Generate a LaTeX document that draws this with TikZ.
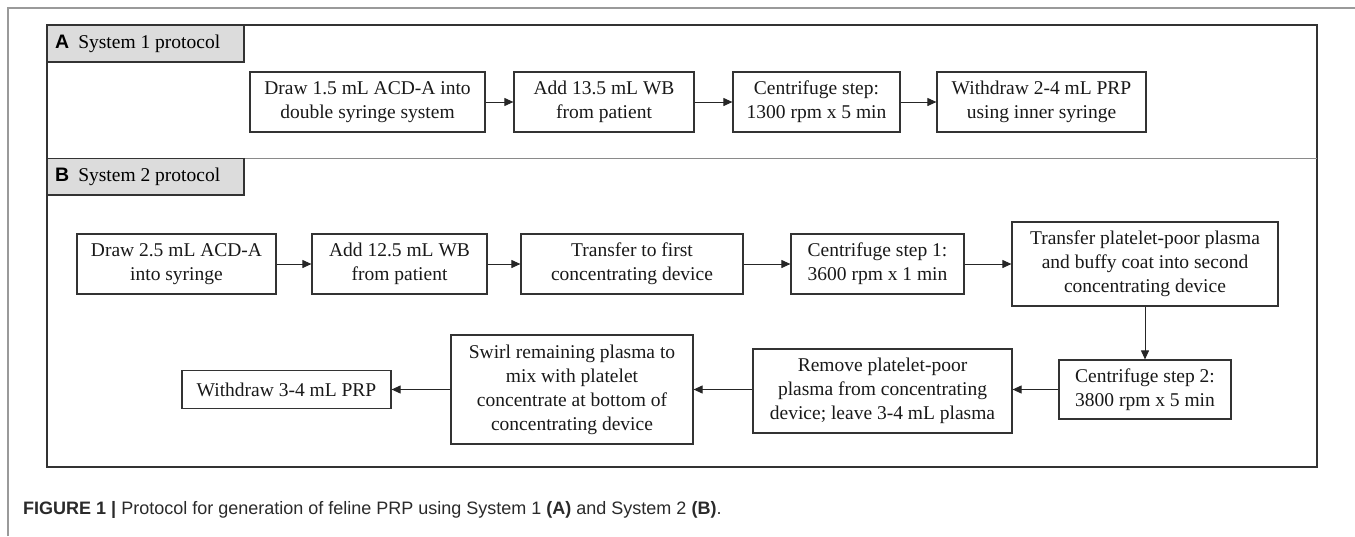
\documentclass[tikz,border=0pt]{standalone}
\usepackage{fontspec}
\setmainfont{Liberation Serif}
\newfontfamily\capfont{Liberation Sans}
\usetikzlibrary{arrows.meta}
\definecolor{frameline}{HTML}{333333}
\definecolor{outerline}{HTML}{9A9A9A}
\definecolor{sepline}{HTML}{8A8A8A}
\definecolor{headfill}{HTML}{DCDCDC}
\definecolor{captext}{HTML}{2A2A2A}
\tikzset{
  stepbox/.style={draw=frameline, line width=1.2pt, fill=white, align=center,
    inner sep=0pt, font=\fontsize{19.5}{24}\selectfont, text=black!90},
  flow/.style={draw=black!85, line width=1pt, -{Triangle[length=9pt,width=8pt]}},
  headbox/.style={draw=frameline, line width=1.2pt, fill=headfill},
}
\begin{document}
\begin{tikzpicture}[x=1pt,y=-1pt]
\useasboundingbox (0,0) rectangle (1355,536);

% outer frame of the figure
\draw[outerline, line width=1.3pt] (8,536) -- (8,8) -- (1355,8);

% panel frame and separator
\draw[frameline, line width=1.5pt] (47,25) rectangle (1317,467);
\draw[sepline, line width=1.3pt] (47,158.5) -- (1317,158.5);

% panel headers
\draw[headbox] (47,25) rectangle (244,62);
\node[anchor=west, inner sep=0pt, font=\fontsize{19.5}{24}\selectfont] (hA) at (55,43.5)
  {{\capfont\bfseries A}\hspace{9pt}System 1 protocol};
\draw[headbox] (47,158.5) rectangle (244,195);
\node[anchor=west, inner sep=0pt, font=\fontsize{19.5}{24}\selectfont] (hB) at (55,176.5)
  {{\capfont\bfseries B}\hspace{9pt}System 2 protocol};

% System 1 protocol
\node[stepbox, minimum width=235pt, minimum height=60pt] (a1) at (367.5,102)
  {Draw 1.5 mL ACD-A into\\double syringe system};
\node[stepbox, minimum width=180pt, minimum height=60pt] (a2) at (604,102)
  {Add 13.5 mL WB\\from patient};
\node[stepbox, minimum width=167pt, minimum height=60pt] (a3) at (816.5,102)
  {Centrifuge step:\\1300 rpm x 5 min};
\node[stepbox, minimum width=209pt, minimum height=60pt] (a4) at (1041.5,102)
  {Withdraw 2-4 mL PRP\\using inner syringe};
\draw[flow] (a1) -- (a2);
\draw[flow] (a2) -- (a3);
\draw[flow] (a3) -- (a4);

% System 2 protocol, first row
\node[stepbox, minimum width=199pt, minimum height=60pt] (b1) at (176.5,264)
  {Draw 2.5 mL ACD-A\\into syringe};
\node[stepbox, minimum width=175pt, minimum height=60pt] (b2) at (399.5,264)
  {Add 12.5 mL WB\\from patient};
\node[stepbox, minimum width=222pt, minimum height=60pt] (b3) at (632,264)
  {Transfer to first\\concentrating device};
\node[stepbox, minimum width=173pt, minimum height=60pt] (b4) at (877.5,264)
  {Centrifuge step 1:\\3600 rpm x 1 min};
\node[stepbox, minimum width=266pt, minimum height=84pt] (b5) at (1145,264)
  {Transfer platelet-poor plasma\\and buffy coat into second\\concentrating device};

% System 2 protocol, second row
\node[stepbox, minimum width=172pt, minimum height=59pt] (b6) at (1145,389.5)
  {Centrifuge step 2:\\3800 rpm x 5 min};
\node[stepbox, minimum width=259pt, minimum height=84pt] (b7) at (882.5,391)
  {Remove platelet-poor\\plasma from concentrating\\device; leave 3-4 mL plasma};
\node[stepbox, minimum width=242pt, minimum height=109pt] (b8) at (572,389.5)
  {Swirl remaining plasma to\\mix with platelet\\concentrate at bottom of\\concentrating device};
\node[stepbox, minimum width=209pt, minimum height=38pt] (b9) at (286.5,389.5)
  {Withdraw 3-4 mL PRP};

\draw[flow] (b1) -- (b2);
\draw[flow] (b2) -- (b3);
\draw[flow] (b3) -- (b4);
\draw[flow] (b4) -- (b4 -| b5.west);
\draw[flow] (b5) -- (b6);
\draw[flow] (b6.west) -- (b6.west -| b7.east);
\draw[flow] (b7.west |- b6.west) -- (b6.west -| b8.east);
\draw[flow] (b8.west |- b6.west) -- (b6.west -| b9.east);

% caption
\node[anchor=base west, inner sep=0pt, text=captext,
      font=\capfont\fontsize{18}{22}\selectfont] (cap) at (23,514)
  {\textbf{FIGURE 1} \textbf{|} Protocol for generation of feline PRP using System 1 \textbf{(A)} and System 2 \textbf{(B)}.};
\end{tikzpicture}
\end{document}
